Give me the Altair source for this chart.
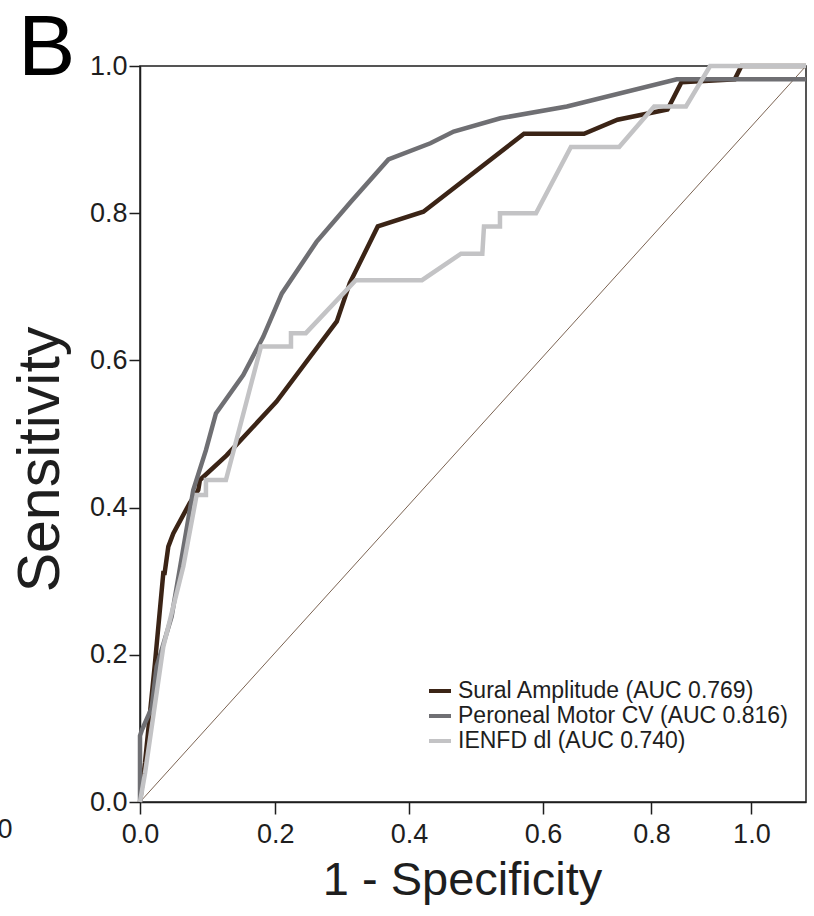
import altair as alt
import pandas as pd

series_names = [
    "Sural Amplitude (AUC 0.769)",
    "Peroneal Motor CV (AUC 0.816)",
    "IENFD dl (AUC 0.740)",
]
series_colors = ["#3b2416", "#6f6f73", "#c3c3c5"]

# 1 - specificity (fraction of the plotted axis length) and sensitivity
sural_x = [0, 0.0075, 0.0225, 0.035, 0.037, 0.0425, 0.05, 0.0746, 0.0875, 0.09,
           0.130, 0.205, 0.2556, 0.2955, 0.315, 0.357, 0.4255, 0.5766, 0.6667,
           0.717, 0.792, 0.813, 0.893, 0.903, 1.0]
sural_y = [0, 0.053, 0.189, 0.311, 0.311, 0.347, 0.365, 0.406, 0.424, 0.4375,
           0.471, 0.544, 0.605, 0.653, 0.705, 0.782, 0.802, 0.908, 0.908,
           0.927, 0.941, 0.978, 0.982, 1.0, 1.0]

peroneal_x = [0, 0, 0.003, 0.0175, 0.025, 0.0475, 0.080, 0.099, 0.114, 0.155,
              0.185, 0.213, 0.265, 0.317, 0.373, 0.436, 0.471, 0.541, 0.641,
              0.806, 1.0]
peroneal_y = [0, 0.09, 0.098, 0.128, 0.184, 0.252, 0.424, 0.478, 0.528, 0.580,
              0.632, 0.691, 0.761, 0.816, 0.873, 0.895, 0.911, 0.929, 0.945,
              0.982, 0.982]

ienfd_x = [0, 0.0075, 0.035, 0.065, 0.085, 0.099, 0.099, 0.129, 0.1817, 0.2267,
           0.2267, 0.249, 0.324, 0.4234, 0.482, 0.514, 0.5165, 0.5405, 0.5405,
           0.5946, 0.647, 0.7195, 0.772, 0.8198, 0.856, 1.0]
ienfd_y = [0, 0.039, 0.211, 0.32, 0.417, 0.417, 0.4375, 0.4375, 0.619, 0.619,
           0.637, 0.637, 0.709, 0.709, 0.745, 0.745, 0.782, 0.782, 0.800,
           0.800, 0.890, 0.890, 0.945, 0.945, 1.0, 1.0]

ref_x = [0, 1]
ref_y = [0, 1]

x_tick_values = [0, 0.203, 0.404, 0.605, 0.768, 0.918]
x_tick_labels = ["0.0", "0.2", "0.4", "0.6", "0.8", "1.0"]
y_tick_values = [0, 0.2, 0.4, 0.6, 0.8, 1.0]

panel_letter = "B"
stray_label = "0"

rows = []
for name, xs, ys in zip(series_names, [sural_x, peroneal_x, ienfd_x],
                        [sural_y, peroneal_y, ienfd_y]):
    for i, (a, b) in enumerate(zip(xs, ys)):
        rows.append({"series": name, "fpr": a, "tpr": b, "idx": i})
df = pd.DataFrame(rows)
ref_df = pd.DataFrame({"fpr": ref_x, "tpr": ref_y, "idx": [0, 1]})

label_expr = "".join(
    f"abs(datum.value - {v}) < 0.001 ? '{l}' : " for v, l in zip(x_tick_values, x_tick_labels)
) + "''"

FONT = "Liberation Sans"
INK = "#1e1e1e"

x_scale = alt.Scale(domain=[0, 1], nice=False, zero=False)
y_scale = alt.Scale(domain=[0, 1], nice=False, zero=False)

x_axis = alt.Axis(
    values=x_tick_values, labelExpr=label_expr, grid=False,
    tickSize=12, tickWidth=1.5, tickColor=INK, domainColor=INK, domainWidth=1.5,
    labelPadding=7, labelFontSize=27, labelColor=INK, labelFlush=False, labelOverlap=False,
    title="1 - Specificity", titleFontSize=47, titleFontWeight="normal", titleColor=INK,
    titleX=322, titleY=92, titleAlign="center", titleBaseline="alphabetic",
)
y_axis = alt.Axis(
    values=y_tick_values, format=".1f", grid=False,
    tickSize=11, tickWidth=1.5, tickColor=INK, domainColor=INK, domainWidth=1.5,
    labelPadding=2, labelFontSize=27, labelColor=INK, labelFlush=False, labelOverlap=False,
    title="Sensitivity", titleFontSize=59, titleFontWeight="normal", titleColor=INK,
    titleX=-82, titleY=393, titleAngle=270, titleAlign="center", titleBaseline="alphabetic",
)

color = alt.Color(
    "series:N",
    scale=alt.Scale(domain=series_names, range=series_colors),
    title=None,
    legend=alt.Legend(
        orient="none", legendX=287, legendY=612, symbolType="stroke",
        symbolSize=484, symbolStrokeWidth=4, labelFontSize=23, labelColor=INK,
        labelOffset=5, rowPadding=0, padding=0, labelLimit=500,
    ),
)

ref = alt.Chart(ref_df).mark_line(color="#7b6352", strokeWidth=1).encode(
    x=alt.X("fpr:Q", scale=x_scale, axis=x_axis),
    y=alt.Y("tpr:Q", scale=y_scale, axis=y_axis),
    order="idx:Q",
)

layers = [ref]
for name in series_names:
    layers.append(
        alt.Chart(df).transform_filter(alt.datum.series == name)
        .mark_line(strokeWidth=4.5, strokeJoin="miter")
        .encode(
            x=alt.X("fpr:Q", scale=x_scale),
            y=alt.Y("tpr:Q", scale=y_scale),
            color=color,
            order="idx:Q",
        )
    )

text_df = pd.DataFrame({"letter": [panel_letter], "stray": [stray_label]})
letter = alt.Chart(text_df).mark_text(
    fontSize=86, align="left", baseline="alphabetic", color="#000", font=FONT
).encode(x=alt.value(-122), y=alt.value(9), text="letter:N")
stray = alt.Chart(text_df).mark_text(
    fontSize=27, align="center", baseline="middle", color=INK, font=FONT
).encode(x=alt.value(-135), y=alt.value(764), text="stray:N")

chart = alt.layer(*layers, letter, stray).properties(
    width=666, height=736,
    autosize=alt.AutoSizeParams(type="none"),
    padding={"left": 140, "top": 66, "right": 8, "bottom": 114},
).configure(font=FONT).configure_view(stroke=INK, strokeWidth=1.5)

chart.save("out.html", embed_options={"renderer": "svg", "actions": False})
